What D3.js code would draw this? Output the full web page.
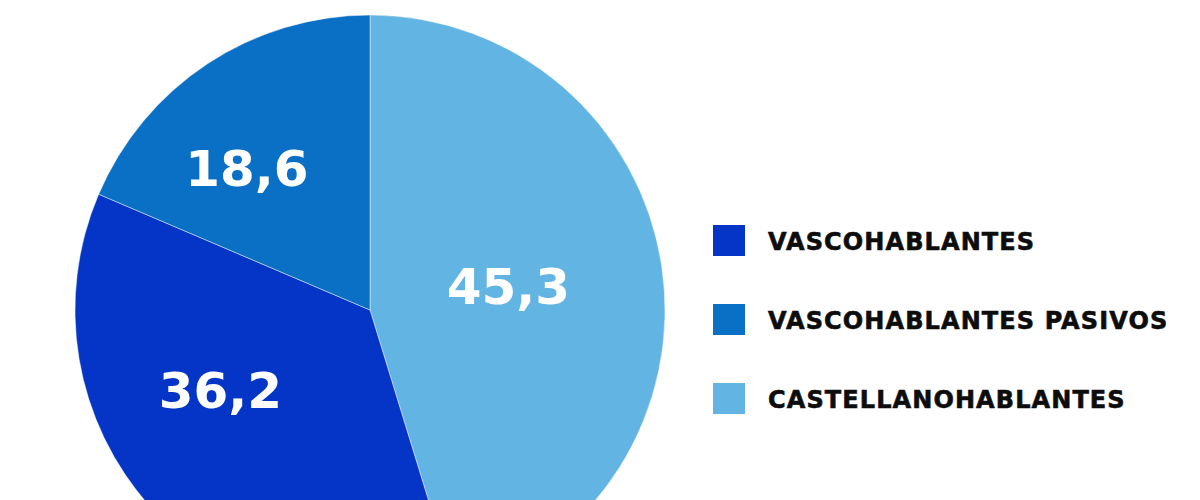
<!DOCTYPE html>
<html>
<head>
<meta charset="utf-8">
<script src="https://cdn.jsdelivr.net/npm/d3@7"></script>
<style>
  body { margin: 0; background: #fff; }
  svg { display: block; }
</style>
</head>
<body>
<div id="chart"></div>
<script>
// data
var categories = ["CASTELLANOHABLANTES", "VASCOHABLANTES", "VASCOHABLANTES PASIVOS"];
var values     = [45.3, 36.2, 18.6];
var legendOrder = ["VASCOHABLANTES", "VASCOHABLANTES PASIVOS", "CASTELLANOHABLANTES"];
var colors     = ["#62b4e3", "#0535c6", "#0a70c6"];

var width = 1200, height = 500;
var cx = 370, cy = 310, radius = 295;

// label placement: angle shift (deg) and radius per slice
var labelShift  = [0, 13, -8];
var labelRadius = [140, 171, 186];

var svg = d3.select("#chart").append("svg")
  .attr("width", width)
  .attr("height", height);

var color = d3.scaleOrdinal().domain(categories).range(colors);

var pie = d3.pie().sort(null).value(function(d){ return d.value; });
var arcs = pie(categories.map(function(c, i){ return {name: c, value: values[i]}; }));

var arc = d3.arc().innerRadius(0).outerRadius(radius);

var g = svg.append("g").attr("transform", "translate(" + cx + "," + cy + ")");

g.selectAll("path")
  .data(arcs)
  .enter()
  .append("path")
  .attr("d", arc)
  .attr("fill", function(d){ return color(d.data.name); })
  .attr("stroke", "rgba(255,255,255,0.45)")
  .attr("stroke-width", 1);

g.selectAll("text.val")
  .data(arcs)
  .enter()
  .append("text")
  .attr("class", "val")
  .attr("transform", function(d, i){
    var a = (d.startAngle + d.endAngle) / 2 + labelShift[i] * Math.PI / 180;
    var r = labelRadius[i];
    return "translate(" + (r * Math.sin(a)) + "," + (-r * Math.cos(a)) + ")";
  })
  .attr("text-anchor", "middle")
  .attr("dy", "0.3em")
  .attr("fill", "#fff")
  .style("font-family", "'DejaVu Sans', sans-serif")
  .style("font-weight", "bold")
  .style("font-size", "50px")
  .text(function(d){ return d3.format(".1f")(d.data.value).replace(".", ","); });

// legend
var ly = d3.scalePoint().domain(legendOrder).range([241, 399]);

var legend = svg.selectAll("g.legend")
  .data(legendOrder)
  .enter()
  .append("g")
  .attr("class", "legend")
  .attr("transform", function(d){ return "translate(713," + ly(d) + ")"; });

legend.append("rect")
  .attr("x", 0)
  .attr("y", -16)
  .attr("width", 32)
  .attr("height", 31)
  .attr("fill", function(d){ return color(d); });

legend.append("text")
  .attr("x", 55)
  .attr("y", 9)
  .attr("fill", "#0d0d0d")
  .attr("stroke", "#0d0d0d")
  .attr("stroke-width", 0.6)
  .style("font-family", "'DejaVu Sans', sans-serif")
  .style("font-weight", "bold")
  .style("font-size", "24px")
  .style("letter-spacing", "1.1px")
  .text(function(d){ return d; });
</script>
</body>
</html>
